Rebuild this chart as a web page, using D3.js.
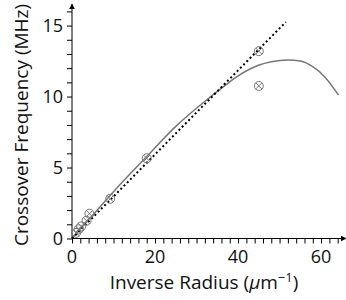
<!DOCTYPE html>
<html>
<head>
<meta charset="utf-8">
<script src="https://cdn.jsdelivr.net/npm/d3@7"></script>
<style>
  body { margin: 0; background: #fff; }
  svg text { font-family: "Open Sans", "DejaVu Sans", sans-serif; fill: #111; }
</style>
</head>
<body>
<div class="viz"></div>
<script>
// measured crossover points (inverse radius, MHz)
const inv_radius = [1.0, 1.6, 2.2, 3.5, 4.2, 9.2, 18.0, 45.0, 45.0];
const crossover = [0.4, 0.65, 0.85, 1.25, 1.75, 2.8, 5.65, 13.2, 10.75];

// model curve
const model_x = [0, 5, 10, 18, 25, 32.4, 36.5, 40, 44.9, 48, 52, 55, 58, 61, 64.2];
const model_y = [0, 1.65, 3.3, 5.77, 7.9, 9.76, 10.7, 11.45, 12.2, 12.45, 12.58, 12.5, 12.1, 11.35, 10.1];

// linear fit (dotted)
const fit_x = [0, 51.5];
const fit_y = [0, 15.25];

const x_ticks = [0, 20, 40, 60];
const y_ticks = [0, 5, 10, 15];

var width = 346,
    height = 300;

var x = d3.scaleLinear().domain([0, 66]).range([72, 346]);
var y = d3.scaleLinear().domain([0, 16.45]).range([238.5, 5]);

var svg = d3
    .select(".viz")
    .append("svg")
    .attr("width", width)
    .attr("height", height);

svg.append("defs")
    .append("marker")
    .attr("id", "arrow")
    .attr("viewBox", "0 0 10 10")
    .attr("refX", 9)
    .attr("refY", 5)
    .attr("markerWidth", 6)
    .attr("markerHeight", 6)
    .attr("markerUnits", "userSpaceOnUse")
    .attr("orient", "auto")
    .append("path")
    .attr("d", "M0,0 L10,5 L0,10 z")
    .attr("fill", "#000");

/**
 * axes with minor ticks
 */
var x_axis = d3.axisBottom(x)
    .tickValues(d3.range(0, 66, 2))
    .tickSize(5)
    .tickFormat("");
var g_x = svg.append("g")
    .attr("transform", `translate(0,${y(0)})`)
    .call(x_axis);
g_x.select(".domain").remove();
g_x.selectAll("line").attr("stroke", "#000").attr("stroke-width", 1);

var y_axis = d3.axisLeft(y)
    .tickValues(d3.range(0, 17, 1))
    .tickSize(5)
    .tickFormat("");
var g_y = svg.append("g")
    .attr("transform", `translate(${x(0)},0)`)
    .call(y_axis);
g_y.select(".domain").remove();
g_y.selectAll("line").attr("stroke", "#000").attr("stroke-width", 1);

svg.append("line")
    .attr("x1", x(0)).attr("y1", y(0))
    .attr("x2", 346).attr("y2", y(0))
    .attr("stroke", "#000")
    .attr("marker-end", "url(#arrow)");
svg.append("line")
    .attr("x1", x(0)).attr("y1", y(0))
    .attr("x2", x(0)).attr("y2", 4)
    .attr("stroke", "#000")
    .attr("marker-end", "url(#arrow)");

svg.selectAll(".xlab")
    .data(x_ticks)
    .enter()
    .append("text")
    .attr("x", (d) => x(d))
    .attr("y", 263)
    .attr("text-anchor", "middle")
    .attr("font-size", 18)
    .text((d) => d);

svg.selectAll(".ylab")
    .data(y_ticks)
    .enter()
    .append("text")
    .attr("x", 63)
    .attr("y", (d) => y(d) + 6.5)
    .attr("text-anchor", "end")
    .attr("font-size", 18)
    .text((d) => d);

var xl = svg.append("text")
    .attr("x", 204)
    .attr("y", 289)
    .attr("text-anchor", "middle")
    .attr("font-size", 19);
xl.append("tspan").text("Inverse Radius (");
xl.append("tspan").attr("font-style", "italic").text("μ");
xl.append("tspan").text("m");
xl.append("tspan").attr("font-size", 13).attr("dy", -7).text("−1");
xl.append("tspan").attr("dy", 7).text(")");

svg.append("text")
    .attr("transform", "translate(28,125) rotate(-90)")
    .attr("text-anchor", "middle")
    .attr("font-size", 19)
    .text("Crossover Frequency (MHz)");

/**
 * model curve + fit line
 */
var line = d3.line()
    .x((d) => x(d[0]))
    .y((d) => y(d[1]))
    .curve(d3.curveMonotoneX);

svg.append("path")
    .attr("d", line(model_x.map((v, i) => [v, model_y[i]])))
    .attr("fill", "none")
    .attr("stroke", "#777")
    .attr("stroke-width", 1.5);

svg.append("path")
    .attr("d", d3.line().x((d) => x(d[0])).y((d) => y(d[1]))(fit_x.map((v, i) => [v, fit_y[i]])))
    .attr("fill", "none")
    .attr("stroke", "#000")
    .attr("stroke-width", 2)
    .attr("stroke-dasharray", "2,2.6");

/**
 * data markers (circled x)
 */
var pts = svg.append("g")
    .selectAll("g")
    .data(inv_radius.map((v, i) => [v, crossover[i]]))
    .enter()
    .append("g")
    .attr("transform", (d) => `translate(${x(d[0])},${y(d[1])})`)
    .attr("stroke", "#777")
    .attr("stroke-width", 1)
    .attr("fill", "none");
pts.append("circle").attr("r", 4.5);
pts.append("path").attr("d", "M-3.2,-3.2L3.2,3.2M-3.2,3.2L3.2,-3.2");
</script>
</body>
</html>
